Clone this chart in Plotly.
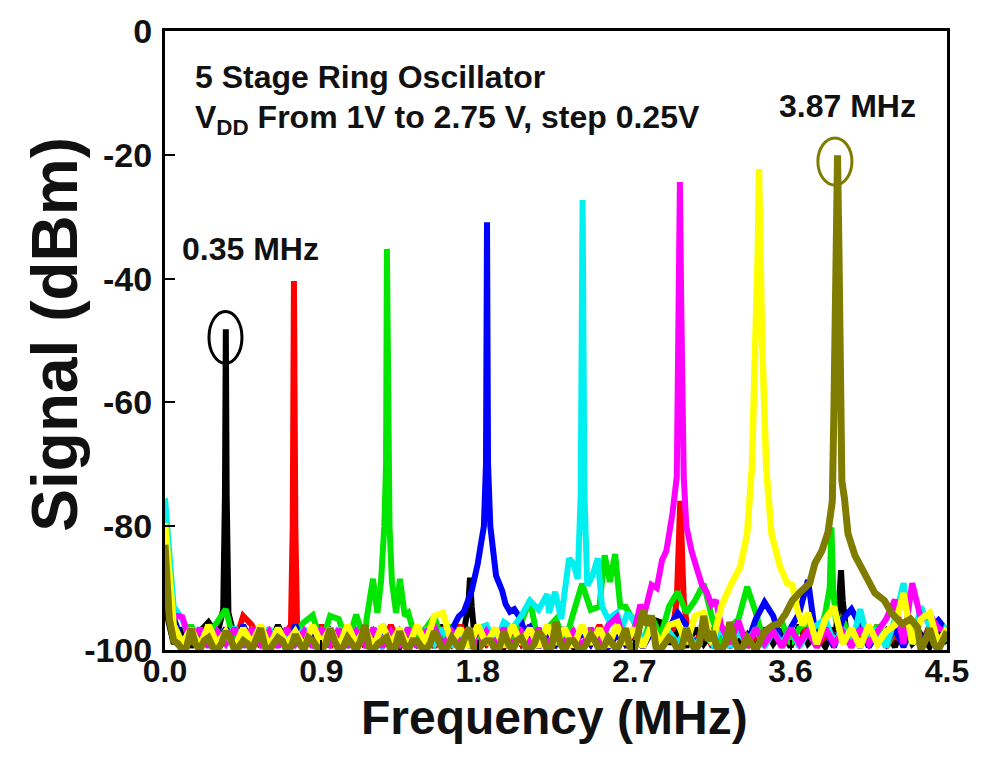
import plotly.graph_objects as go

# Shared analyzer frequency grid for the noise floor (MHz)
freq_floor = [
    0.00, 0.05, 0.10, 0.15, 0.20, 0.25, 0.30, 0.35, 0.40, 0.45,
    0.50, 0.55, 0.60, 0.65, 0.70, 0.75, 0.80, 0.85, 0.90, 0.95,
    1.00, 1.05, 1.10, 1.15, 1.20, 1.25, 1.30, 1.35, 1.40, 1.45,
    1.50, 1.55, 1.60, 1.65, 1.70, 1.75, 1.80, 1.85, 1.90, 1.95,
    2.00, 2.05, 2.10, 2.15, 2.20, 2.25, 2.30, 2.35, 2.40, 2.45,
    2.50, 2.55, 2.60, 2.65, 2.70, 2.75, 2.80, 2.85, 2.90, 2.95,
    3.00, 3.05, 3.10, 3.15, 3.20, 3.25, 3.30, 3.35, 3.40, 3.45,
    3.50, 3.55, 3.60, 3.65, 3.70, 3.75, 3.80, 3.85, 3.90, 3.95,
    4.00, 4.05, 4.10, 4.15, 4.20, 4.25, 4.30, 4.35, 4.40, 4.45,
    4.50,
]
# Intermediate bins, used for the densest (2.75 V) trace
freq_mid = [
    0.025, 0.075, 0.125, 0.175, 0.225, 0.275, 0.325, 0.375, 0.425, 0.475,
    0.525, 0.575, 0.625, 0.675, 0.725, 0.775, 0.825, 0.875, 0.925, 0.975,
    1.025, 1.075, 1.125, 1.175, 1.225, 1.275, 1.325, 1.375, 1.425, 1.475,
    1.525, 1.575, 1.625, 1.675, 1.725, 1.775, 1.825, 1.875, 1.925, 1.975,
    2.025, 2.075, 2.125, 2.175, 2.225, 2.275, 2.325, 2.375, 2.425, 2.475,
    2.525, 2.575, 2.625, 2.675, 2.725, 2.775, 2.825, 2.875, 2.925, 2.975,
    3.025, 3.075, 3.125, 3.175, 3.225, 3.275, 3.325, 3.375, 3.425, 3.475,
    3.525, 3.575, 3.625, 3.675, 3.725, 3.775, 3.825, 3.875, 3.925, 3.975,
    4.025, 4.075, 4.125, 4.175, 4.225, 4.275, 4.325, 4.375, 4.425, 4.475,
]

# Noise floor of each spectrum (dBm) on freq_floor
floor_1v00 = [
    -93, -99, -96.5, -99.5, -97, -95.5, -99, -97, -99.5, -96.5,
    -99, -97.5, -99.5, -96, -99, -97, -99.5, -96.5, -99, -97,
    -99.5, -96.5, -99, -97.5, -99.5, -96, -98.5, -99.5, -96.5, -99,
    -97, -99.5, -96, -99, -97, -99.5, -96.5, -99, -97.5, -99.5,
    -96.5, -99, -97, -99.5, -96, -99, -97.5, -99.5, -96.5, -99,
    -97, -99.5, -96, -99, -97.5, -99.5, -95, -95.5, -99, -97,
    -99.5, -96.5, -99, -97, -99.5, -96, -99, -97.5, -99.5, -96.5,
    -99, -97, -99.5, -96, -99, -97.5, -99.5, -96.5, -99, -97,
    -99.5, -96.5, -99, -97, -99.5, -96, -99, -97.5, -99.5, -96.5,
    -99,
]
floor_1v25 = [
    -92, -96.5, -99.5, -97, -99, -96, -99.5, -97.5, -99, -94.5,
    -96, -99.5, -97, -99, -96.5, -99.5, -97, -99, -96, -99.5,
    -97.5, -99, -96.5, -99.5, -97, -99, -96, -99.5, -97.5, -99,
    -96.5, -99.5, -97, -99, -96, -99.5, -97.5, -99, -96.5, -99.5,
    -97, -99, -96, -99.5, -97.5, -99, -96.5, -99.5, -97, -99,
    -96, -99.5, -97.5, -99, -96.5, -99.5, -97, -99, -96, -99.5,
    -97, -99, -96.5, -99.5, -97, -99, -96, -99.5, -97.5, -99,
    -96.5, -99.5, -97, -99, -96, -99.5, -97.5, -99, -96.5, -99.5,
    -97, -99, -96, -99.5, -97.5, -99, -96.5, -99.5, -96, -99,
    -97,
]
floor_1v50 = [
    -91, -97, -99.5, -96, -99, -97.5, -95.5, -93.4, -99, -96.5,
    -99.5, -97, -99, -96.5, -99.5, -97, -95.5, -94.4, -99, -94.5,
    -95, -99, -94.3, -98.5, -96, -95, -95, -95, -94, -99,
    -96.5, -94.6, -99, -96, -99.5, -97, -99, -96.5, -99.5, -97,
    -99, -95.5, -92, -99, -96.5, -95, -99, -94, -89.3, -93.5,
    -93, -90, -90, -93, -95.5, -99, -94.5, -98, -93, -90.6,
    -94, -92, -89.3, -95, -99, -96.5, -95, -89.8, -94, -99,
    -96.5, -95.5, -99, -96.5, -95.5, -99, -94, -94, -95, -99,
    -96.5, -99, -96, -99.5, -96.5, -98.5, -96, -99.5, -96.5, -99,
    -98,
]
floor_1v75 = [
    -93, -94.7, -99, -96.5, -99.5, -97, -99, -96.5, -99.5, -96,
    -99, -96.5, -99.5, -97, -99, -96, -99.5, -97.5, -99, -96.5,
    -99.5, -96.5, -99, -97, -99.5, -96.5, -99, -97, -99.5, -96,
    -99, -96.5, -99.5, -95.5, -94, -94, -94, -94, -94, -94,
    -94, -94, -96.3, -99.5, -97, -99, -96.5, -99.5, -97, -99,
    -96.5, -99.5, -97.5, -99, -96.5, -99.5, -97, -99, -96.5, -94,
    -96, -99.5, -97, -99, -96.5, -99.5, -97, -99, -95, -92.3,
    -94.5, -99, -96.5, -94, -88.7, -99, -96.5, -99.5, -95, -93.4,
    -96, -99.5, -97, -99, -96.5, -99.5, -96, -99, -96.5, -95.2,
    -97,
]
floor_2v00 = [
    -75.5, -93, -95, -99, -96.5, -99.5, -97, -99, -96.3, -99.5,
    -97, -99, -96.5, -99.5, -97.3, -99, -96.5, -99.5, -97, -99,
    -96.5, -99.5, -97, -99, -96.5, -99.5, -97.5, -99, -96.5, -99.5,
    -97, -99, -96.5, -99.5, -97, -99, -96.5, -96, -99, -95.5,
    -96.5, -94.5, -92, -93.5, -91, -95, -95, -95, -95, -95,
    -97, -97, -97, -97, -94.5, -99, -96, -99.5, -97, -99,
    -96.5, -99.5, -97, -99, -96.5, -99.5, -97, -99, -96.5, -99.5,
    -97, -99, -96.5, -99.5, -97, -96, -95, -99, -96.5, -99.5,
    -93.4, -99, -96.5, -99.5, -95, -89.2, -99, -93, -96, -99.5,
    -96,
]
floor_2v25 = [
    -92, -94.3, -94.7, -99, -96.5, -99.5, -97, -99, -96.5, -99.5,
    -96.5, -99, -97, -99.5, -96.5, -99, -97, -99.5, -96.5, -99,
    -96.7, -99.5, -97, -99, -96.5, -99.5, -97, -99, -96.5, -99.5,
    -97, -96.3, -99.5, -97, -99, -96.5, -99.5, -97, -99, -96.5,
    -99.5, -97, -99, -96.5, -99.5, -96.5, -99, -97, -99.5, -96.5,
    -99, -96, -94.7, -99, -97, -97, -97, -97, -97, -97,
    -97, -97, -97, -97, -97, -99, -95.3, -99.5, -96.5, -99,
    -97, -99.5, -96.5, -99, -97, -99.5, -96.5, -99, -97, -99.5,
    -96.5, -99, -97, -95, -91.9, -99, -89.2, -95, -94.3, -96.5,
    -97,
]
floor_2v50 = [
    -79.5, -96, -99, -96.5, -99.5, -96, -99, -97, -99.5, -96.5,
    -99, -96, -99.5, -96.5, -99, -97, -99.5, -96, -99, -96.5,
    -99.5, -96, -99, -96.5, -99.5, -96, -99, -96.5, -99.5, -96,
    -99, -94.5, -94, -99, -96.5, -99.5, -96, -99, -96.5, -99.5,
    -96, -99, -96.5, -99.5, -96, -99, -96.5, -99.5, -96, -99,
    -96.5, -99.5, -96, -99, -96.5, -99.5, -96, -99, -96, -95.5,
    -99, -94.5, -94, -99, -93, -93, -93, -93, -93, -93,
    -90, -90, -90, -90, -94, -99, -95, -93, -99, -96.5,
    -99.5, -96, -99, -97, -96, -90.8, -99, -95, -94, -99,
    -96.5,
]
floor_2v75 = [
    -83, -98.5, -100, -96.5, -100, -98, -100, -97, -100, -98.5,
    -100, -96.5, -100, -98, -100, -97.5, -100, -98.5, -100, -96.5,
    -100, -98, -100, -96, -100, -98.5, -100, -97, -100, -98.5,
    -100, -97, -100, -98, -100, -96.5, -100, -98.5, -100, -97,
    -100, -98, -100, -97, -100, -95.5, -100, -98.5, -100, -97.5,
    -100, -98, -100, -96.5, -100, -93.5, -94.5, -100, -98, -100,
    -96.5, -100, -94.5, -97, -100, -95.5, -100, -98, -100, -97,
    -96, -96, -96, -96, -96, -96, -96, -96, -96, -96,
    -96, -96, -96, -96, -96, -96, -96, -100, -96.5, -100,
    -97,
]
floor_2v75_mid = [
    -95, -99, -99.5, -99, -98.5, -99.5, -99, -98, -99.5, -99,
    -98.5, -99.5, -99, -98.5, -99.5, -99, -98, -99.5, -99, -98.5,
    -99.5, -99, -98.5, -99.5, -99, -98, -99.5, -99, -98.5, -99.5,
    -99, -98.5, -99.5, -99, -98, -99.5, -99, -98.5, -99.5, -99,
    -98.5, -99.5, -99, -98, -99.5, -99, -98.5, -99.5, -99, -98.5,
    -99.5, -99, -98.5, -99.5, -97, -96, -99.5, -99, -98.5, -99.5,
    -98.5, -99, -98.5, -99.5, -99, -98.5, -99.5, -99, -98.5, -98,
    -96, -96, -96, -96, -96, -96, -96, -96, -96, -96,
    -96, -96, -96, -96, -96, -96, -96, -98.5, -99, -98.5,
]

# Oscillation peaks, skirts and harmonic spurs: (frequency MHz, level dBm)
peak_1v00_f = [0.30, 0.335, 0.345, 0.35, 0.355, 0.365, 0.40]
peak_1v00_v = [-97.5, -93.5, -75, -48.2, -75, -94, -98]
spur_1v00a_f = [1.72, 1.745, 1.755, 1.765, 1.78]
spur_1v00a_v = [-97, -93, -88.3, -93, -97.5]
spur_1v00b_f = [3.86, 3.88, 3.89, 3.90, 3.92]
spur_1v00b_v = [-97, -92, -87.1, -92, -97]

peak_1v25_f = [0.70, 0.725, 0.735, 0.742, 0.75, 0.76, 0.785]
peak_1v25_v = [-97, -96, -80, -40.4, -80, -96, -97.5]
spur_1v25_f = [2.92, 2.945, 2.955, 2.965, 2.975, 2.985, 3.01]
spur_1v25_v = [-97, -92, -84, -75.9, -84, -92, -97.5]

peak_1v50_f = [1.16, 1.197, 1.222, 1.243, 1.262, 1.272, 1.277, 1.282, 1.292, 1.306, 1.33, 1.352, 1.38]
peak_1v50_v = [-95, -88.5, -94, -89, -80, -70, -35.2, -70, -80, -89, -94, -88.5, -94.5]
spur_1v50a_f = [2.50, 2.53, 2.56, 2.59, 2.62]
spur_1v50a_v = [-93, -84.7, -89, -84.5, -93]
spur_1v50b_f = [3.80, 3.825, 3.835, 3.845, 3.86]
spur_1v50b_v = [-94, -90, -80.2, -90, -95]

peak_1v75_f = [1.65, 1.69, 1.72, 1.765, 1.80, 1.835, 1.847, 1.853, 1.859, 1.872, 1.905, 1.94, 1.96, 1.985, 2.01, 2.04, 2.07]
peak_1v75_v = [-97, -94.6, -93.8, -90.4, -86, -80, -70, -30.9, -70, -80, -88, -90.4, -92.6, -93.8, -93.4, -94.7, -97]

peak_2v00_f = [2.21, 2.245, 2.28, 2.325, 2.35, 2.375, 2.392, 2.403, 2.414, 2.43, 2.46, 2.49, 2.515, 2.55, 2.60, 2.63, 2.66, 2.69]
peak_2v00_v = [-94, -90.6, -95, -85.2, -86, -88.5, -75, -27.3, -75, -89.6, -88, -85.2, -93, -95, -94, -96.5, -94, -95]

peak_2v25_f = [2.70, 2.735, 2.76, 2.80, 2.83, 2.86, 2.885, 2.92, 2.945, 2.955, 2.963, 2.971, 2.985, 3.00, 3.03, 3.06, 3.09, 3.115, 3.145, 3.17, 3.20]
peak_2v25_v = [-97, -92.7, -94, -89.5, -90, -85.5, -84, -78, -72, -45, -24.4, -45, -72, -80, -84, -86.8, -89.5, -90.5, -92.7, -92, -96]

peak_2v50_f = [3.20, 3.23, 3.26, 3.31, 3.35, 3.377, 3.40, 3.412, 3.418, 3.424, 3.436, 3.46, 3.49, 3.54, 3.58, 3.61, 3.64, 3.67]
peak_2v50_v = [-93, -90.8, -89.2, -86.6, -81.2, -70.6, -50, -35, -22.3, -35, -50, -70.6, -81.2, -86.6, -89.2, -89.5, -93.6, -96]

peak_2v75_f = [3.45, 3.50, 3.53, 3.57, 3.61, 3.65, 3.71, 3.74, 3.78, 3.815, 3.84, 3.85, 3.862, 3.87, 3.878,
               3.885, 3.895, 3.91, 3.93, 3.97, 4.01, 4.045, 4.085, 4.14, 4.18, 4.24, 4.29, 4.33]
peak_2v75_v = [-97, -96, -95.8, -94.2, -92, -90.8, -89.2, -86, -84, -81, -76, -60, -35, -20.1, -35,
               -60, -72.7, -75.5, -81.2, -84.7, -86.8, -89, -90.8, -92, -94, -95.8, -95, -96.3]

vdd_labels = ["1.00 V", "1.25 V", "1.50 V", "1.75 V", "2.00 V", "2.25 V", "2.50 V", "2.75 V"]
colors = ["#000000", "#ff0000", "#00e600", "#0000ff", "#00f0f0", "#ff00ff", "#ffff00", "#807c00"]
widths = [6, 6, 6, 6, 6, 6, 6.5, 7]

x_ticks = [0.0, 0.9, 1.8, 2.7, 3.6, 4.5]
y_ticks = [-100, -80, -60, -40, -20, 0]


def build(freqs, floor_vals, segments):
    """Merge a noise floor with peak segments; floor points inside a segment are replaced."""
    pts = []
    for f, v in zip(freqs, floor_vals):
        if not any(min(sf) <= f <= max(sf) for sf, _ in segments):
            pts.append((f, v))
    for sf, sv in segments:
        pts.extend(zip(sf, sv))
    pts.sort(key=lambda p: p[0])
    return [p[0] for p in pts], [p[1] for p in pts]


spectra = [
    build(freq_floor, floor_1v00,
          [(peak_1v00_f, peak_1v00_v), (spur_1v00a_f, spur_1v00a_v), (spur_1v00b_f, spur_1v00b_v)]),
    build(freq_floor, floor_1v25, [(peak_1v25_f, peak_1v25_v), (spur_1v25_f, spur_1v25_v)]),
    build(freq_floor, floor_1v50,
          [(peak_1v50_f, peak_1v50_v), (spur_1v50a_f, spur_1v50a_v), (spur_1v50b_f, spur_1v50b_v)]),
    build(freq_floor, floor_1v75, [(peak_1v75_f, peak_1v75_v)]),
    build(freq_floor, floor_2v00, [(peak_2v00_f, peak_2v00_v)]),
    build(freq_floor, floor_2v25, [(peak_2v25_f, peak_2v25_v)]),
    build(freq_floor, floor_2v50, [(peak_2v50_f, peak_2v50_v)]),
    build(freq_floor + freq_mid, floor_2v75 + floor_2v75_mid, [(peak_2v75_f, peak_2v75_v)]),
]

FONT = "Liberation Sans, Arial, sans-serif"

fig = go.Figure()
for (fx, fy), name, col, w in zip(spectra, vdd_labels, colors, widths):
    fig.add_trace(go.Scatter(
        x=fx, y=fy, mode="lines", name=name,
        line=dict(color=col, width=w),
        showlegend=False,
    ))

# Ellipses marking the lowest and highest oscillation frequencies
fig.add_shape(type="circle", xref="x", yref="y",
              x0=0.253, x1=0.443, y0=-53.7, y1=-45.3,
              line=dict(color="#000000", width=3))
fig.add_shape(type="circle", xref="x", yref="y",
              x0=3.757, x1=3.953, y0=-24.9, y1=-17.3,
              line=dict(color="#807c00", width=3))

bold = dict(family=FONT, color="#111111", weight="bold")

fig.add_annotation(x=0.036, y=0.925, xref="paper", yref="paper", xanchor="left", yanchor="middle",
                   text="5 Stage Ring Oscillator", showarrow=False, font=dict(size=32, **bold))
fig.add_annotation(x=0.036, y=0.857, xref="paper", yref="paper", xanchor="left", yanchor="middle",
                   text="V<sub>DD</sub> From 1V to 2.75 V, step 0.25V", showarrow=False,
                   font=dict(size=32, **bold))
fig.add_annotation(x=3.93, y=-12.1, xref="x", yref="y", xanchor="center", yanchor="middle",
                   text="3.87 MHz", showarrow=False, font=dict(size=32, **bold))
fig.add_annotation(x=0.49, y=-35.2, xref="x", yref="y", xanchor="center", yanchor="middle",
                   text="0.35 MHz", showarrow=False, font=dict(size=32, **bold))

# Axis titles
fig.add_annotation(x=0.4987, y=-0.109, xref="paper", yref="paper", xanchor="center", yanchor="middle",
                   text="Frequency (MHz)", showarrow=False, font=dict(size=48, **bold))
fig.add_annotation(x=-0.1407, y=0.511, xref="paper", yref="paper", xanchor="center", yanchor="middle",
                   text="Signal (dBm)", textangle=-90, showarrow=False, font=dict(size=64, **bold))

fig.update_layout(
    width=998, height=757,
    margin=dict(l=165, r=51, t=28, b=107),
    paper_bgcolor="white", plot_bgcolor="white",
    font=dict(family=FONT, color="#111111"),
    xaxis=dict(
        range=[0, 4.5], tickvals=x_ticks, ticktext=[f"{t:.1f}" for t in x_ticks],
        ticks="inside", ticklen=10, tickwidth=2, tickcolor="black",
        showline=True, linecolor="black", linewidth=3, mirror=True,
        showgrid=False, zeroline=False, ticklabelstandoff=-9,
        tickfont=dict(size=32, **bold),
    ),
    yaxis=dict(
        range=[-100, 0], tickvals=y_ticks, ticktext=[str(t) for t in y_ticks],
        ticks="inside", ticklen=10, tickwidth=2, tickcolor="black",
        showline=True, linecolor="black", linewidth=3, mirror=True,
        showgrid=False, zeroline=False, ticklabelstandoff=3,
        tickfont=dict(size=34, **bold),
    ),
)

fig.write_html("out.html")
